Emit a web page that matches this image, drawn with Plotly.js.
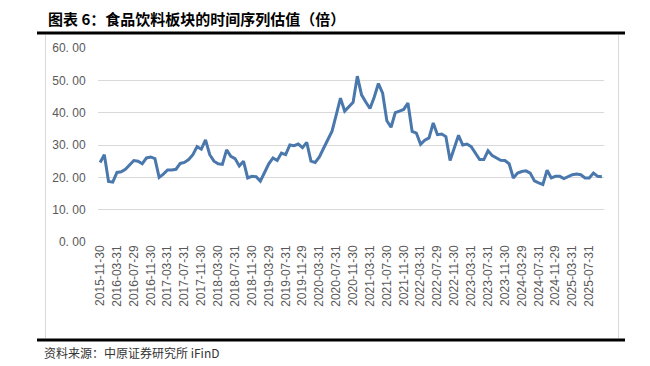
<!DOCTYPE html>
<html>
<head>
<meta charset="utf-8">
<script src="https://cdn.plot.ly/plotly-3.0.1.min.js"></script>
<style>
html,body{margin:0;padding:0;background:#fff;}
#chart{width:650px;height:366px;}
</style>
</head>
<body>
<div id="chart"></div>
<script>
// Monthly valuation (PE, times), 2015-11 .. 2025-10
const startYear = 2015, startMonth = 11;
const peValues = [
  24.6, 27.0, 18.7, 18.5, 21.5, 21.7, 22.5, 24.0, 25.2, 25.0,
  24.2, 26.0, 26.3, 25.8, 20.0, 21.0, 22.3, 22.3, 22.5, 24.3,
  24.6, 25.5, 27.0, 29.5, 28.7, 31.6, 27.0, 25.0, 24.2, 24.0,
  28.5, 26.5, 25.8, 23.5, 25.0, 19.8, 20.3, 20.2, 18.8, 21.5,
  24.2, 26.0, 25.2, 27.5, 27.0, 30.0, 29.8, 30.3, 29.2, 30.8,
  25.0, 24.6, 26.3, 29.0, 31.5, 34.3, 39.3, 44.5, 40.5, 42.0,
  43.2, 51.3, 45.5, 43.3, 41.3, 44.8, 49.0, 46.0, 37.5, 35.5,
  40.0, 40.5, 41.0, 43.0, 34.2, 33.7, 30.2, 31.5, 32.2, 36.8,
  33.2, 33.4, 32.6, 25.2, 29.5, 33.0, 30.0, 30.3, 29.5, 27.5,
  25.5, 25.5, 28.2, 26.7, 26.0, 25.3, 25.2, 24.2, 19.8, 21.3,
  21.8, 22.0, 21.3, 18.9, 18.3, 17.8, 22.2, 19.8, 20.3, 20.3,
  19.6, 20.2, 20.8, 21.0, 20.8, 19.8, 19.8, 21.3, 20.3, 20.2
];
const xTickLabels = [
  "2015-11-30","2016-03-31","2016-07-29","2016-11-30","2017-03-31","2017-07-31",
  "2017-11-30","2018-03-30","2018-07-31","2018-11-30","2019-03-29","2019-07-31",
  "2019-11-29","2020-03-31","2020-07-31","2020-11-30","2021-03-31","2021-07-30",
  "2021-11-30","2022-03-31","2022-07-29","2022-11-30","2023-03-31","2023-07-31",
  "2023-11-30","2024-03-29","2024-07-31","2024-11-29","2025-03-31","2025-07-31"
];
const yTickVals = [0, 10, 20, 30, 40, 50, 60];
const yTickLabels = ["0. 00","10. 00","20. 00","30. 00","40. 00","50. 00","60. 00"];
const titleText = "图表 6：食品饮料板块的时间序列估值（倍）";
const sourceText = "资料来源：中原证券研究所 iFinD";

// month category keys
const months = peValues.map((_, i) => {
  const t = (startMonth - 1) + i;
  const y = startYear + Math.floor(t / 12);
  const m = (t % 12) + 1;
  return y + "-" + (m < 10 ? "0" + m : m);
});
const tickKeys = xTickLabels.map(s => s.slice(0, 7));

// layout geometry in pixels
const W = 650, H = 366;
const L = 98, R = 604, T = 48, B = 242;
const px = x => (x - L) / (R - L);
const py = y => (B - y) / (B - T);

const trace = {
  type: "scatter", mode: "lines",
  x: months, y: peValues,
  line: {color: "#4a78ad", width: 3},
  hoverinfo: "x+y"
};

const layout = {
  width: W, height: H,
  margin: {l: L, r: W - R, t: T, b: H - B, pad: 0},
  paper_bgcolor: "#ffffff", plot_bgcolor: "#ffffff",
  showlegend: false,
  font: {family: "Liberation Sans, Arial, sans-serif", color: "#595959"},
  xaxis: {
    type: "category",
    range: [-0.5, peValues.length - 0.5],
    tickmode: "array", tickvals: tickKeys, ticktext: xTickLabels,
    tickangle: -90,
    tickfont: {size: 12, color: "#595959", family: "Liberation Sans, Arial, sans-serif"},
    showgrid: false, zeroline: false,
    showline: false, ticks: "", ticklen: 0,
    automargin: false
  },
  yaxis: {
    range: [0, 60],
    tickmode: "array", tickvals: yTickVals, ticktext: yTickLabels,
    tickfont: {size: 12, color: "#595959", family: "Liberation Sans, Arial, sans-serif"},
    showgrid: true, gridcolor: "#d9d9d9", gridwidth: 1,
    zeroline: false, showline: false, ticks: "outside", ticklen: 9, tickcolor: "rgba(0,0,0,0)",
    automargin: false
  },
  shapes: [
    {type: "line", xref: "paper", yref: "paper", x0: px(37), x1: px(625), y0: py(33), y1: py(33),
     line: {color: "#000000", width: 3}},
    {type: "line", xref: "paper", yref: "paper", x0: px(37), x1: px(625), y0: py(340), y1: py(340),
     line: {color: "#000000", width: 3}},
    {type: "line", xref: "paper", yref: "paper", x0: px(45.5), x1: px(45.5), y0: py(35), y1: py(338),
     line: {color: "#d9d9d9", width: 1}},
    {type: "line", xref: "paper", yref: "paper", x0: px(618.5), x1: px(618.5), y0: py(35), y1: py(338),
     line: {color: "#d9d9d9", width: 1}}
  ],
  annotations: [
    {text: "<b>" + titleText + "</b>", xref: "paper", yref: "paper",
     x: px(46), y: py(18), xanchor: "left", yanchor: "middle", showarrow: false,
     font: {family: "Noto Sans CJK SC, sans-serif", size: 15, color: "#000000"}},
    {text: sourceText, xref: "paper", yref: "paper",
     x: px(42), y: py(352), xanchor: "left", yanchor: "middle", showarrow: false,
     font: {family: "Noto Sans CJK SC, sans-serif", size: 12, color: "#333333"}}
  ]
};

Plotly.newPlot("chart", [trace], layout, {displayModeBar: false, staticPlot: true});
</script>
</body>
</html>
